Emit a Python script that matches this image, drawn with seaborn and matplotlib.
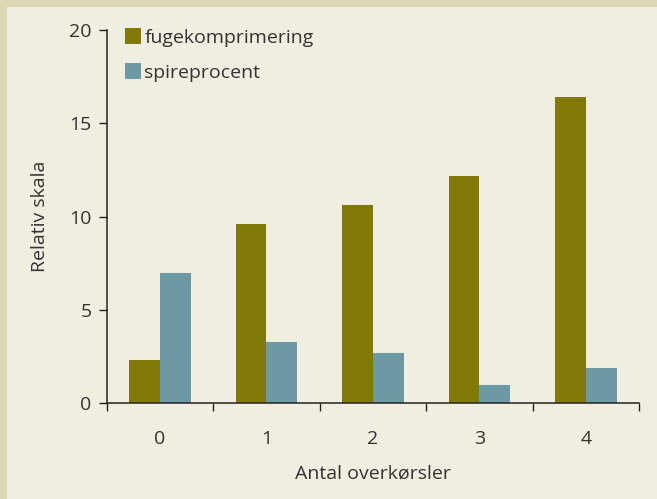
import matplotlib
matplotlib.use("Agg")
import matplotlib.pyplot as plt
import seaborn as sns
import pandas as pd
from matplotlib.patches import Rectangle, Patch

categories = ["0", "1", "2", "3", "4"]
fugekomprimering = [2.3, 9.6, 10.6, 12.2, 16.4]
spireprocent = [7.0, 3.3, 2.7, 1.0, 1.9]
series_names = ["fugekomprimering", "spireprocent"]
colors = ["#817806", "#6d99a6"]

df = pd.DataFrame({
    "x": categories * 2,
    "val": fugekomprimering + spireprocent,
    "serie": [series_names[0]] * 5 + [series_names[1]] * 5,
})

sns.set_theme(style="white")
plt.rcParams["font.family"] = ["Open Sans", "DejaVu Sans"]
bg = "#f0eee0"
fig = plt.figure(figsize=(6.57, 4.99), dpi=100, facecolor=bg)
ax = fig.add_axes([0.1624, 0.1918, 0.8106, 0.7481])
ax.set_facecolor(bg)

sns.barplot(data=df, x="x", y="val", hue="serie", palette=colors, width=0.58,
            saturation=1, ax=ax, legend=False, linewidth=0, edgecolor="none")

ax.set_xlim(-0.5, 4.5)
ax.set_ylim(0, 20)
ax.set_yticks([0, 5, 10, 15, 20])
for s in ["top", "right"]:
    ax.spines[s].set_visible(False)
for s in ["left", "bottom"]:
    ax.spines[s].set_color("#222222")
    ax.spines[s].set_linewidth(1.1)

txt = "#333333"
ax.tick_params(axis="y", which="major", length=6, width=1, color="#222222",
               direction="out", left=True, labelsize=14, labelcolor=txt, pad=5)
ax.set_xticks(range(5))
ax.set_xticklabels(categories)
ax.set_xticks([-0.5, 0.5, 1.5, 2.5, 3.5, 4.5], minor=True)
ax.tick_params(axis="x", which="major", length=0, labelsize=14, labelcolor=txt, pad=19)
ax.tick_params(axis="x", which="minor", length=6, width=1, color="#222222",
               direction="out", bottom=True)

ax.set_xlabel("Antal overkørsler", fontsize=14, color=txt, labelpad=12)
ax.set_ylabel("Relativ skala", fontsize=14, color=txt, labelpad=14)

handles = [Patch(facecolor=c, edgecolor="none") for c in colors]
ax.legend(handles, series_names, loc="upper left", bbox_to_anchor=(0.034, 1.005),
          frameon=False, fontsize=14, labelcolor=txt, handlelength=0.85,
          handleheight=0.85, handletextpad=0.15, labelspacing=0.85,
          borderpad=0, borderaxespad=0)

band = "#ddd8b3"
fig.patches.append(Rectangle((0, 1 - 7 / 499), 1, 7 / 499, transform=fig.transFigure,
                             facecolor=band, edgecolor="none", zorder=-1))
fig.patches.append(Rectangle((0, 0), 7 / 657, 1, transform=fig.transFigure,
                             facecolor=band, edgecolor="none", zorder=-1))

fig.savefig("out.png", dpi=100, facecolor=bg)
